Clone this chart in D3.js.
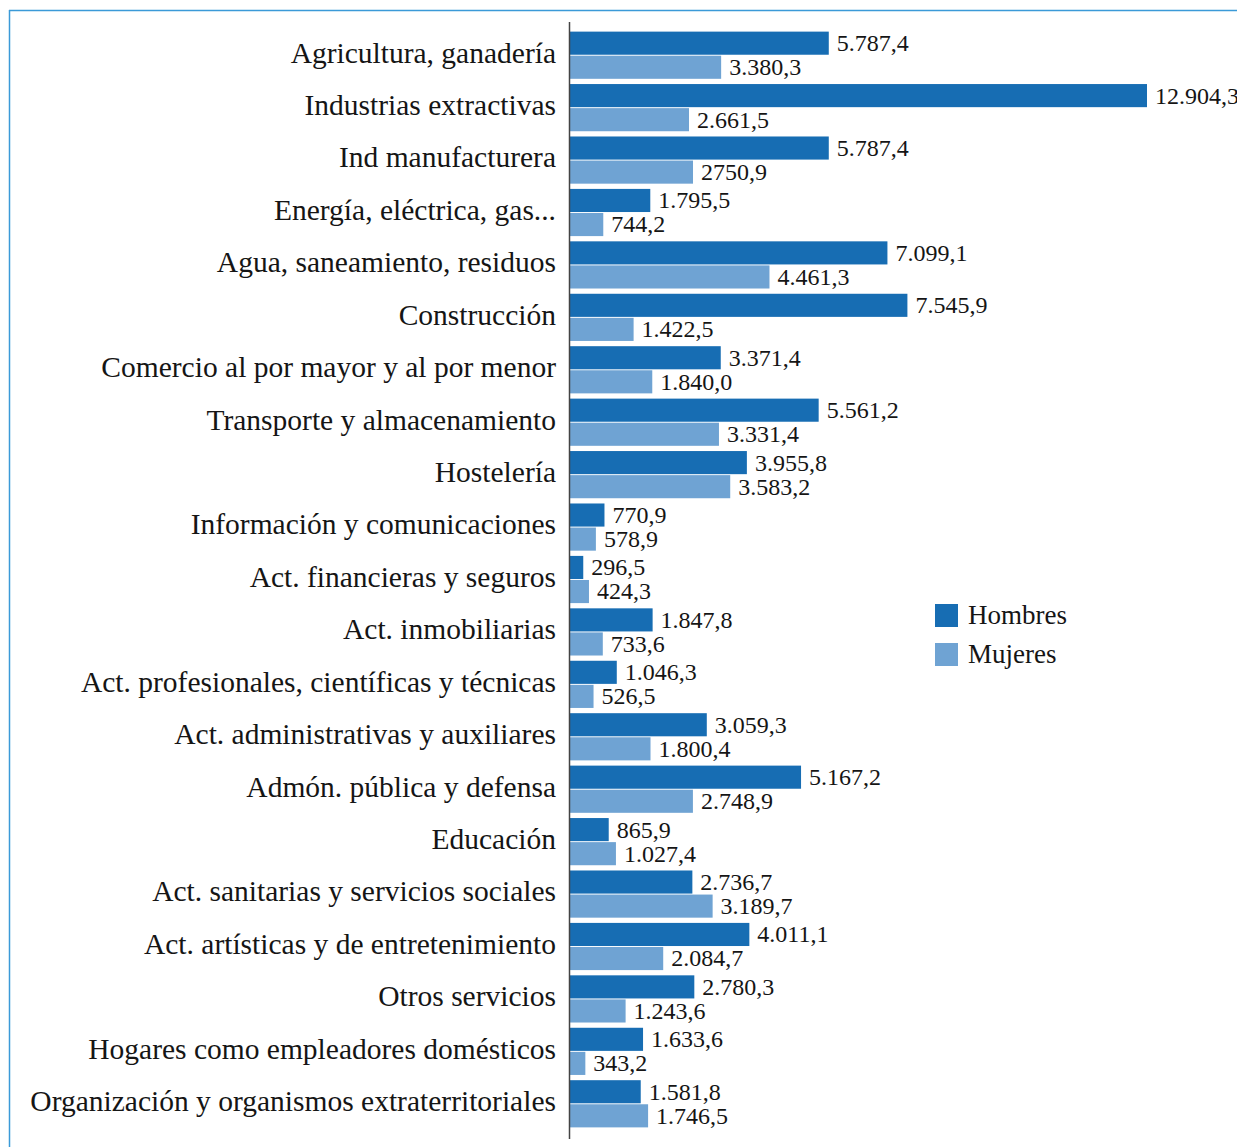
<!DOCTYPE html>
<html><head><meta charset="utf-8">
<script src="https://cdn.jsdelivr.net/npm/d3@7"></script>
<style>
html,body{margin:0;padding:0;background:#fff;}
svg{display:block;}
</style></head>
<body>
<svg id="chart" width="1237" height="1147"></svg>
<script>
const categories = [
  "Agricultura, ganadería","Industrias extractivas","Ind manufacturera","Energía, eléctrica, gas...",
  "Agua, saneamiento, residuos","Construcción","Comercio al por mayor y al por menor",
  "Transporte y almacenamiento","Hostelería","Información y comunicaciones",
  "Act. financieras y seguros","Act. inmobiliarias","Act. profesionales, científicas y técnicas",
  "Act. administrativas y auxiliares","Admón. pública y defensa","Educación",
  "Act. sanitarias y servicios sociales","Act. artísticas y de entretenimiento","Otros servicios",
  "Hogares como empleadores domésticos","Organización y organismos extraterritoriales"
];
const hombres = [5787.4,12904.3,5787.4,1795.5,7099.1,7545.9,3371.4,5561.2,3955.8,770.9,296.5,1847.8,1046.3,3059.3,5167.2,865.9,2736.7,4011.1,2780.3,1633.6,1581.8];
const mujeres = [3380.3,2661.5,2750.9,744.2,4461.3,1422.5,1840.0,3331.4,3583.2,578.9,424.3,733.6,526.5,1800.4,2748.9,1027.4,3189.7,2084.7,1243.6,343.2,1746.5];
const hombresLabels = ["5.787,4","12.904,3","5.787,4","1.795,5","7.099,1","7.545,9","3.371,4","5.561,2","3.955,8","770,9","296,5","1.847,8","1.046,3","3.059,3","5.167,2","865,9","2.736,7","4.011,1","2.780,3","1.633,6","1.581,8"];
const mujeresLabels = ["3.380,3","2.661,5","2750,9","744,2","4.461,3","1.422,5","1.840,0","3.331,4","3.583,2","578,9","424,3","733,6","526,5","1.800,4","2.748,9","1.027,4","3.189,7","2.084,7","1.243,6","343,2","1.746,5"];
const seriesNames = ["Hombres","Mujeres"];
const colors = ["#176db3","#6fa3d3"];

const svg = d3.select("#chart");
const font = "'Liberation Serif', 'DejaVu Serif', serif";

// frame
svg.append("line").attr("x1",9).attr("x2",1237).attr("y1",10.5).attr("y2",10.5).attr("stroke","#3b9ad8").attr("stroke-width",1.5);
svg.append("line").attr("x1",9.5).attr("x2",9.5).attr("y1",10).attr("y2",1147).attr("stroke","#3b9ad8").attr("stroke-width",1.5);

const x = d3.scaleLinear().domain([0, 12904.3]).range([570, 1147]);
const y = d3.scaleBand().domain(categories).range([29, 1130]).paddingInner(0.1).paddingOuter(0.05);
const ySub = d3.scaleBand().domain(seriesNames).range([0, y.bandwidth()]).paddingInner(0.04);

const data = categories.map((c,i)=>({c, vals:[
  {s:"Hombres", v:hombres[i], l:hombresLabels[i]},
  {s:"Mujeres", v:mujeres[i], l:mujeresLabels[i]}
]}));

const g = svg.append("g").selectAll("g").data(data).join("g")
  .attr("transform", d=>`translate(0,${y(d.c)})`);

g.selectAll("rect").data(d=>d.vals).join("rect")
  .attr("x", x(0))
  .attr("y", d=>ySub(d.s))
  .attr("width", d=>x(d.v)-x(0))
  .attr("height", ySub.bandwidth())
  .attr("fill", (d,i)=>colors[i]);

g.selectAll("text.val").data(d=>d.vals).join("text")
  .attr("class","val")
  .attr("x", d=>x(d.v)+8)
  .attr("y", d=>ySub(d.s)+ySub.bandwidth()/2)
  .attr("dy","0.33em")
  .attr("font-family", font)
  .attr("font-size", 24)
  .attr("fill", "#151515")
  .text(d=>d.l);

// category axis
const yAxis = d3.axisLeft(y).tickSize(0).tickPadding(14);
const ax = svg.append("g").attr("transform","translate(570,0)").call(yAxis);
ax.select(".domain").remove();
ax.selectAll("text").attr("font-family", font).attr("font-size", 29.5).attr("fill","#151515").attr("dy","0.25em");
svg.append("line").attr("x1",569.5).attr("x2",569.5).attr("y1",22).attr("y2",1139).attr("stroke","#444").attr("stroke-width",1.5);

// legend
const leg = svg.append("g").attr("transform","translate(935,604)");
seriesNames.forEach((s,i)=>{
  const r = leg.append("g").attr("transform",`translate(0,${i*39})`);
  r.append("rect").attr("width",23).attr("height",23).attr("fill",colors[i]);
  r.append("text").attr("x",33).attr("y",12).attr("dy","0.3em").attr("font-family",font).attr("font-size",27).attr("fill","#151515").text(s);
});
</script>
</body></html>
